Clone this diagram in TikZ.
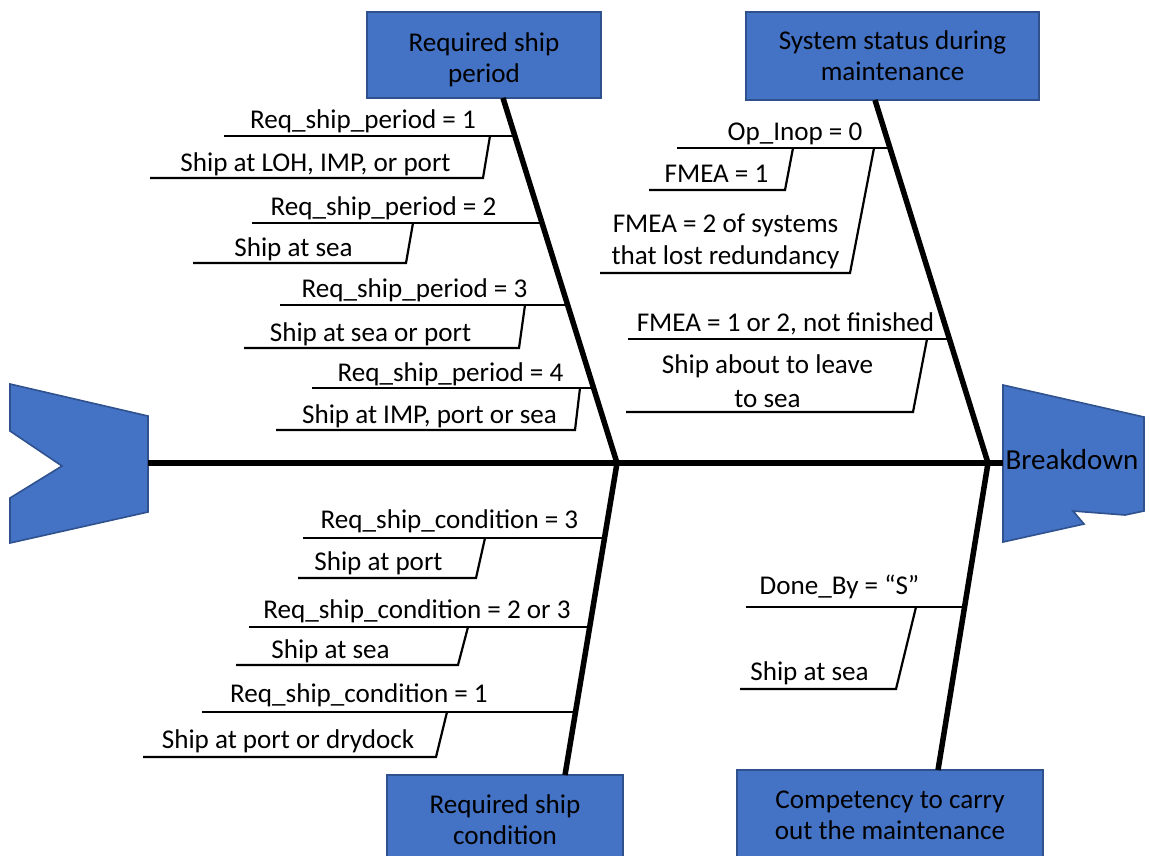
\documentclass[tikz,border=0pt]{standalone}
\usepackage{fontspec}
\setmainfont{Carlito}
\definecolor{boxfill}{HTML}{4472C4}
\definecolor{boxline}{HTML}{2F528F}
\begin{document}
\begin{tikzpicture}[x=1pt,y=-1pt,
  lbl/.style={inner sep=0pt,anchor=base,font=\fontsize{27.1}{32}\selectfont},
  lbl2/.style={inner sep=0pt,anchor=center,align=center,font=\fontsize{27.1}{32}\selectfont},
  catbox/.style={draw=boxline,fill=boxfill,line width=1.8pt,inner sep=0pt,align=center,
    font=\fontsize{27.1}{31}\selectfont},
  boxtext/.style={inner sep=0pt,align=center,font=\fontsize{27.1}{31}\selectfont},
  fishpart/.style={draw=boxline,fill=boxfill,line width=1.6pt,line join=miter},
  spine/.style={line width=5.5pt},
  bone/.style={line width=5.5pt,line join=miter},
  rib/.style={line width=2.2pt,line join=miter}]
\useasboundingbox (0,0) rectangle (1150,855);

% tail and head of the fish
\path[fishpart] (10,384) -- (148,416) -- (148,512) -- (10,543) -- (10,498) -- (62,466) -- (10,431) -- cycle;
\path[fishpart] (1003,385) -- (1144,417) -- (1144,511) -- (1125,515) -- (1073,511) -- (1084,524) -- (1003,542) -- cycle;

% category boxes
\node[catbox,minimum width=234pt,minimum height=86pt] (rsp) at (484,55) {};
\node[boxtext] (rspt) at ([yshift=-4.5pt]rsp.center) {Required ship\\period};
\node[catbox,minimum width=293pt,minimum height=88pt] (sys) at (892.5,56) {System status during\\maintenance};
\node[catbox,minimum width=236pt,minimum height=90pt] (rsc) at (505,820) {Required ship\\condition};
\node[catbox,minimum width=306pt,minimum height=90pt] (comp) at (890,815) {Competency to carry\\out the maintenance};

% spine coordinates
\coordinate (tail) at (148,463);
\coordinate (head) at (1003,463);
\coordinate (J1) at (617,463);
\coordinate (J2) at (988,463);
\coordinate (t1) at (503,98);
\coordinate (t2) at (875,100);
\coordinate (b1) at (565,775);
\coordinate (b2) at (938,770);

\draw[spine] (tail) -- (head);
\draw[bone] (t1) -- (J1) -- (b1);
\draw[bone] (t2) -- (J2) -- (b2);

% Required ship period ribs
\draw[rib] (224,136) -- (514.9,136);
\draw[rib] (150,178) -- (483,178) -- (490,136);
\draw[rib] (252,223) -- (542,223);
\draw[rib] (193,263) -- (406,263) -- (413,223);
\draw[rib] (280,305) -- (567.6,305);
\draw[rib] (244,348) -- (519,348) -- (525,305);
\draw[rib] (312,388) -- (593.6,388);
\draw[rib] (276,430) -- (575,430) -- (580,388);

\node[lbl] (p1) at (363,128) {Req\_ship\_period = 1};
\node[lbl] (p1a) at (315.5,171) {Ship at LOH, IMP, or port};
\node[lbl] (p2) at (383.5,215) {Req\_ship\_period = 2};
\node[lbl] (p2a) at (293.5,256) {Ship at sea};
\node[lbl] (p3) at (414.5,297) {Req\_ship\_period = 3};
\node[lbl] (p3a) at (370.5,341) {Ship at sea or port};
\node[lbl] (p4) at (450.5,381) {Req\_ship\_period = 4};
\node[lbl] (p4a) at (429.5,423) {Ship at IMP, port or sea};

% System status ribs
\draw[rib] (677,148) -- (889.9,148);
\draw[rib] (649,190) -- (785,190) -- (793,148);
\draw[rib] (600,273) -- (850,273) -- (874,148);
\draw[rib] (628,339) -- (949.4,339);
\draw[rib] (626,412) -- (913,412) -- (927,339);

\node[lbl] (s1) at (795,140) {Op\_Inop = 0};
\node[lbl] (s1a) at (716.5,182) {FMEA = 1};
\node[lbl2] (s1b) at (725.5,241.5) {FMEA = 2 of systems\\that lost redundancy};
\node[lbl] (s2) at (785.5,331) {FMEA = 1 or 2, not finished};
\node[lbl2,font=\fontsize{27.1}{34}\selectfont] (s2a) at (767.5,381.5) {Ship about to leave\\to sea};

% Required ship condition ribs
\draw[rib] (303,538) -- (604.4,538);
\draw[rib] (298,578) -- (476,578) -- (485,538);
\draw[rib] (249,627) -- (589.4,627);
\draw[rib] (236,665) -- (458,665) -- (468,627);
\draw[rib] (202,712) -- (575.1,712);
\draw[rib] (143,757) -- (436,757) -- (447,712);

\node[lbl] (c1) at (449.5,528) {Req\_ship\_condition = 3};
\node[lbl] (c1a) at (378.5,570) {Ship at port};
\node[lbl] (c2) at (417,618) {Req\_ship\_condition = 2 or 3};
\node[lbl] (c2a) at (330.5,658) {Ship at sea};
\node[lbl] (c3) at (359,702) {Req\_ship\_condition = 1};
\node[lbl] (c3a) at (288,748) {Ship at port or drydock};

% Competency ribs
\draw[rib] (746,607) -- (964.5,607);
\draw[rib] (740,689) -- (896,689) -- (916,607);

\node[lbl] (d1) at (839.5,594) {Done\_By = “S”};
\node[lbl] (d1a) at (809.5,680) {Ship at sea};

% effect label
\node[inner sep=0pt,anchor=base,font=\fontsize{29}{34}\selectfont] (eff) at (1072,469) {Breakdown};
\end{tikzpicture}
\end{document}
